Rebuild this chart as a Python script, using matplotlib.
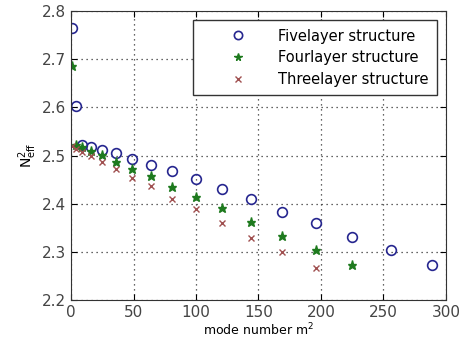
import matplotlib
matplotlib.use("Agg")
import matplotlib.pyplot as plt

# mode number m^2
m2_five = [1, 4, 9, 16, 25, 36, 49, 64, 81, 100, 121, 144, 169, 196, 225, 256, 289]
m2_four = [1, 4, 9, 16, 25, 36, 49, 64, 81, 100, 121, 144, 169, 196, 225]
m2_three = [1, 4, 9, 16, 25, 36, 49, 64, 81, 100, 121, 144, 169, 196]

# N_eff^2 values
n_five = [2.764, 2.602, 2.522, 2.518, 2.512, 2.505, 2.494, 2.481, 2.468,
          2.451, 2.431, 2.409, 2.384, 2.360, 2.331, 2.304, 2.273]
n_four = [2.686, 2.522, 2.518, 2.510, 2.501, 2.487, 2.472, 2.457, 2.435,
          2.415, 2.391, 2.363, 2.334, 2.304, 2.272]
n_three = [2.520, 2.514, 2.508, 2.499, 2.487, 2.472, 2.454, 2.437, 2.411,
           2.389, 2.361, 2.330, 2.299, 2.266]

fig = plt.figure(figsize=(4.62, 3.47), dpi=100)
ax = fig.add_axes([0.154, 0.135, 0.811, 0.833])

ax.plot(m2_five, n_five, linestyle='none', marker='o', markersize=7,
        markerfacecolor='none', markeredgecolor='#26268f', markeredgewidth=1.2,
        label='Fivelayer structure')
ax.plot(m2_four, n_four, linestyle='none', marker='*', markersize=6.5,
        color='#1e7a1e', label='Fourlayer structure')
ax.plot(m2_three, n_three, linestyle='none', marker='x', markersize=5,
        color='#a05050', markeredgewidth=1.0, label='Threelayer structure')

ax.set_xlim(0, 300)
ax.set_ylim(2.2, 2.8)
ax.set_xticks([0, 50, 100, 150, 200, 250, 300])
ax.set_yticks([2.2, 2.3, 2.4, 2.5, 2.6, 2.7, 2.8])
ax.grid(True, linestyle=(0, (1, 3)), color='#333333', linewidth=0.9)
ax.tick_params(direction='in', top=True, right=True, labelsize=11,
               labelcolor='#444444', length=4)
for s in ax.spines.values():
    s.set_color('#333333')

ax.set_xlabel('mode number m$^2$', fontsize=9, labelpad=1)
ax.set_ylabel('N$^2_{\\rm eff}$', fontsize=10, labelpad=2)

leg = ax.legend(loc='upper right', fontsize=10.5, fancybox=False, framealpha=1,
                edgecolor='#333333', borderaxespad=0.6, borderpad=0.6,
                handlelength=5.0, handletextpad=0.2, labelspacing=0.45,
                markerscale=0.85)
leg.get_frame().set_linewidth(1.0)

fig.savefig('out.png', dpi=100)
